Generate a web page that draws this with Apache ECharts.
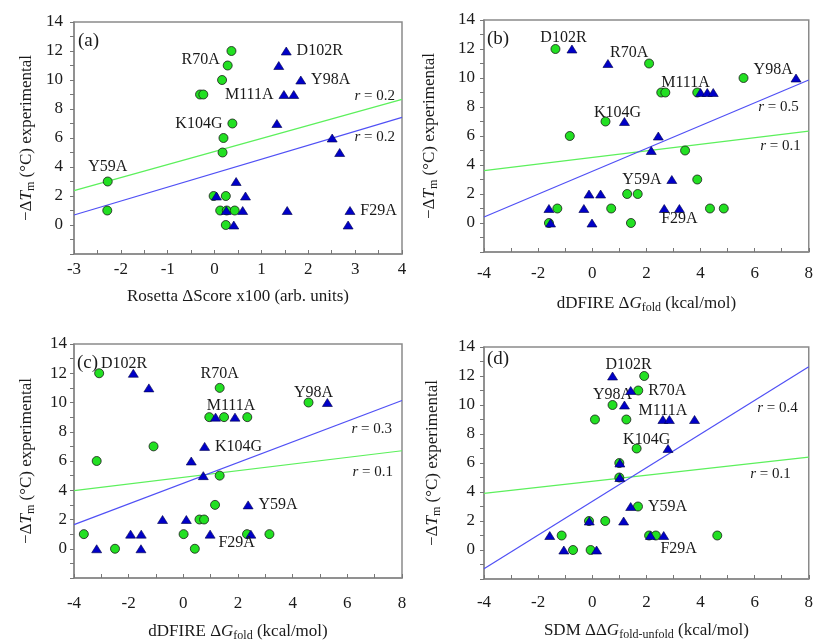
<!DOCTYPE html>
<html><head><meta charset="utf-8">
<script src="https://cdn.jsdelivr.net/npm/echarts@6/dist/echarts.min.js"></script>
<style>html,body{margin:0;padding:0;background:#fff}#c{width:816px;height:643px}</style>
</head><body><div id="c"></div>
<script>
// ---------- data ----------
// panel (a): Rosetta
const aGreen = [[0.36,12],[0.28,11],[0.16,10],[-0.31,9],[-0.24,9],[0.38,7],[0.19,6],[0.17,5],[-2.28,3],[-0.02,2],[0.24,2],[-2.29,1],[0.12,1],[0.26,1],[0.43,1],[0.24,0]];
const aBlue  = [[1.53,12],[1.37,11],[1.84,10],[1.48,9],[1.69,9],[1.33,7],[2.51,6],[2.67,5],[0.46,3],[0.04,2],[0.66,2],[0.25,1],[0.6,1],[1.55,1],[2.89,1],[0.41,0],[2.85,0]];
const aGreenFit = [[-3,2.37],[4,8.66]];
const aBlueFit  = [[-3,0.69],[4,7.42]];
const aR = ['0.2','0.2']; // green, blue
const aLabels = [['R70A','g',1,'left'],['K104G','g',5,'left'],['Y59A','g',8,'top'],['D102R','b',0,'right'],['Y98A','b',2,'right'],['M111A','b',3,'left'],['F29A','b',14,'right']];

// panel (b): dDFIRE
const bGreen = [[-1.36,12],[2.1,11],[5.59,10],[2.55,9],[2.7,9],[3.88,9],[0.49,7],[-0.83,6],[3.43,5],[3.88,3],[1.29,2],[1.68,2],[-1.29,1],[0.7,1],[4.35,1],[4.86,1],[-1.6,0],[1.43,0]];
const bBlue  = [[-0.75,12],[0.58,11],[7.53,10],[4.0,9],[4.25,9],[4.47,9],[1.19,7],[2.44,6],[2.18,5],[2.94,3],[-0.12,2],[0.31,2],[-1.6,1],[-0.31,1],[2.66,1],[3.22,1],[-1.54,0],[-0.01,0]];
const bGreenFit = [[-4,3.61],[8,6.34]];
const bBlueFit  = [[-4,0.41],[8,9.86]];
const bR = ['0.1','0.5'];
const bLabels = [['D102R','g',0,'top'],['R70A','g',1,'top'],['Y98A','b',2,'left'],['M111A','b',3,'top'],['K104G','b',6,'top'],['Y59A','b',9,'left'],['F29A','b',15,'bottom']];

// panel (c): dDFIRE
const cGreen = [[-3.08,12],[1.33,11],[4.58,10],[0.95,9],[1.49,9],[2.34,9],[-1.09,7],[-3.17,6],[1.33,5],[1.16,3],[0.59,2],[0.76,2],[-3.64,1],[0.01,1],[2.33,1],[3.15,1],[-2.5,0],[0.42,0]];
const cBlue  = [[-1.83,12],[-1.26,11],[5.27,10],[1.18,9],[1.89,9],[0.78,7],[0.29,6],[0.73,5],[2.37,3],[-0.76,2],[0.11,2],[-1.93,1],[-1.54,1],[0.98,1],[2.47,1],[-3.17,0],[-1.55,0]];
const cGreenFit = [[-4,3.97],[8,6.7]];
const cBlueFit  = [[-4,1.65],[8,10.14]];
const cR = ['0.1','0.3'];
const cLabels = [['D102R','g',0,'top'],['R70A','g',1,'top'],['Y98A','g',2,'top'],['M111A','b',4,'top'],['K104G','b',5,'right'],['Y59A','b',8,'right'],['F29A','b',13,'right']];

// panel (d): SDM
const dGreen = [[1.92,12],[1.70,11],[0.75,10],[0.1,9],[1.26,9],[1.64,7],[1.0,6],[1.0,5],[1.69,3],[-0.12,2],[0.48,2],[-1.13,1],[2.1,1],[2.35,1],[4.62,1],[-0.71,0],[-0.06,0]];
const dBlue  = [[0.75,12],[1.42,11],[1.19,10],[2.61,9],[2.85,9],[3.78,9],[2.8,7],[1.02,6],[1.02,5],[1.42,3],[-0.11,2],[1.16,2],[-1.57,1],[2.15,1],[2.64,1],[-1.05,0],[0.16,0]];
const dGreenFit = [[-4,3.91],[8,6.41]];
const dBlueFit  = [[-4,-1.29],[8,12.64]];
const dR = ['0.1','0.4'];
const dLabels = [['D102R','b',0,'top'],['Y98A','g',2,'top'],['R70A','g',1,'right'],['M111A','b',3,'top'],['K104G','g',5,'top'],['Y59A','g',8,'right'],['F29A','b',14,'bottom']];

const panelLetters = ['(a)','(b)','(c)','(d)'];
const yTicks = [-2,0,2,4,6,8,10,12,14];

// ---------- styling / layout (not data) ----------
const FONT = 'Liberation Serif';
const TXT = '#1a1a1a';
const labelOffsets = {
  '0R70A':[2,-6], '0Y59A':[0,3.5],
  '1D102R':[8,7], '1R70A':[-20,7.5], '1Y98A':[7,-8], '1M111A':[-15,7.5], '1K104G':[-7,8.5], '1F29A':[0,-6.5],
  '2D102R':[25,8.5], '2R70A':[0,4], '2Y98A':[5,8], '2M111A':[-4,6], '2F29A':[-2,9],
  '3D102R':[16,6], '3Y98A':[0,8], '3M111A':[0,9], '3K104G':[10,9], '3F29A':[15,-4]
};
const rOffsets = [ // [green dist, green dy, blue dist, blue dy]
  [7,-3,7,20],[8,15,10,27],[9,21,10,29],[18,17,11,41]
];
const grids = [
  {left:74, top:22, width:328, height:232},
  {left:484, top:20, width:327, height:232},
  {left:74, top:344, width:328, height:237},
  {left:484, top:347, width:327, height:232}
];
const letterPos = [[78,32],[487,30],[77,354],[487,350]];
const xLabelMargins = [7,13,17,15];
const yLabelMargins = [11,9,7,9];
const xRanges = [[-3,4,1],[-4,8,2],[-4,8,2],[-4,8,2]];
const xNames = [
  '{t|Rosetta ΔScore x100 (arb. units)}',
  '{t|dDFIRE Δ}{i|G}{s|fold}{t| (kcal/mol)}',
  '{t|dDFIRE Δ}{i|G}{s|fold}{t| (kcal/mol)}',
  '{t|SDM ΔΔ}{i|G}{s|fold-unfold}{t| (kcal/mol)}'
];
const yName = '{t|−Δ}{i|T}{s|m}{t| (°C) experimental}';
const yNameGaps = [37,44,37,41];
const xNameGaps = [34,41,43,41];
const rich = {
  t:{fontFamily:FONT, fontSize:17, color:TXT},
  i:{fontFamily:FONT, fontSize:17, color:TXT, fontStyle:'italic'},
  s:{fontFamily:FONT, fontSize:12, color:TXT, padding:[9,0,0,0]}
};

const panels = [
  [aGreen,aBlue,aGreenFit,aBlueFit,aR,aLabels],
  [bGreen,bBlue,bGreenFit,bBlueFit,bR,bLabels],
  [cGreen,cBlue,cGreenFit,cBlueFit,cR,cLabels],
  [dGreen,dBlue,dGreenFit,dBlueFit,dR,dLabels]
];

const xAxis = [], yAxis = [], series = [], title = [];
const axisCommon = {
  type:'value', splitLine:{show:false},
  axisLine:{onZero:false, lineStyle:{color:'#8a8a8a', width:1.5}},
  minorTick:{show:true, splitNumber:2, length:4, lineStyle:{color:'#777'}},
  axisTick:{length:4, lineStyle:{color:'#777'}},
  axisLabel:{fontFamily:FONT, fontSize:17, color:TXT}
};

panels.forEach((p, i) => {
  const [g, b, gf, bf, r, labs] = p;
  const [xmin, xmax, xint] = xRanges[i];
  xAxis.push(Object.assign({}, axisCommon, {
    gridIndex:i, min:xmin, max:xmax, interval:xint,
    axisTick:{inside:true, length:4, lineStyle:{color:'#777'}},
    axisLabel:{fontFamily:FONT, fontSize:17, color:TXT, margin:xLabelMargins[i]},
    name:xNames[i], nameLocation:'middle', nameGap:xNameGaps[i],
    nameTextStyle:{rich:rich}
  }));
  yAxis.push(Object.assign({}, axisCommon, {
    gridIndex:i, min:yTicks[0], max:yTicks[yTicks.length-1], interval:2,
    axisLabel:{fontFamily:FONT, fontSize:17, color:TXT, margin:yLabelMargins[i],
      formatter:v => v === yTicks[0] ? '' : String(v)},
    name:yName, nameLocation:'middle', nameRotate:90, nameGap:yNameGaps[i],
    nameTextStyle:{rich:rich}
  }));
  title.push({text:panelLetters[i], left:letterPos[i][0], top:letterPos[i][1], padding:0,
    textStyle:{fontFamily:FONT, fontSize:19, fontWeight:'normal', color:TXT}});

  const labelFor = (type, idx) => {
    const l = labs.find(e => e[1] === type && e[2] === idx);
    if (!l) return undefined;
    return {show:true, formatter:l[0], position:l[3], distance:5,
      offset: labelOffsets[i + l[0]] || [0,0],
      fontFamily:FONT, fontSize:16, color:TXT};
  };
  const mk = (arr, type) => arr.map((v, k) => {
    const lab = labelFor(type, k);
    return lab ? {value:v, label:lab} : {value:v};
  });
  const ro = rOffsets[i];
  const fitData = (fit, rr, dist, dy) => fit.map((v, k) => k === fit.length-1 ?
    {value:v, label:{show:true, position:'left', distance:dist, offset:[0,dy],
      formatter:'{i|r} = ' + rr,
      fontFamily:FONT, fontSize:15, color:TXT,
      rich:{i:{fontFamily:FONT, fontSize:15, fontStyle:'italic', color:TXT}}}} : {value:v});

  series.push({type:'line', xAxisIndex:i, yAxisIndex:i, data:fitData(gf, r[0], ro[0], ro[1]),
    symbol:'circle', symbolSize:0.01, showSymbol:true, silent:true, z:1,
    lineStyle:{color:'#5cf05c', width:1.2}, itemStyle:{color:'#5cf05c'}});
  series.push({type:'line', xAxisIndex:i, yAxisIndex:i, data:fitData(bf, r[1], ro[2], ro[3]),
    symbol:'circle', symbolSize:0.01, showSymbol:true, silent:true, z:1,
    lineStyle:{color:'#5050f5', width:1.2}, itemStyle:{color:'#5050f5'}});
  series.push({type:'scatter', xAxisIndex:i, yAxisIndex:i, data:mk(g,'g'),
    symbol:'circle', symbolSize:9, z:3,
    itemStyle:{color:'#22e022', borderColor:'#1a1a1a', borderWidth:0.8, opacity:1}});
  series.push({type:'scatter', xAxisIndex:i, yAxisIndex:i, data:mk(b,'b'),
    symbol:'triangle', symbolSize:[10,8], z:4,
    itemStyle:{color:'#0000c8', borderColor:'#00004a', borderWidth:0.6, opacity:1}});
});

const chart = echarts.init(document.getElementById('c'), null, {renderer:'canvas'});
chart.setOption({
  animation:false, backgroundColor:'#fff',
  title:title,
  grid:grids.map(g => Object.assign({show:true, borderColor:'#8a8a8a', borderWidth:1.5, backgroundColor:'transparent'}, g)),
  xAxis:xAxis, yAxis:yAxis, series:series
});
</script></body></html>
